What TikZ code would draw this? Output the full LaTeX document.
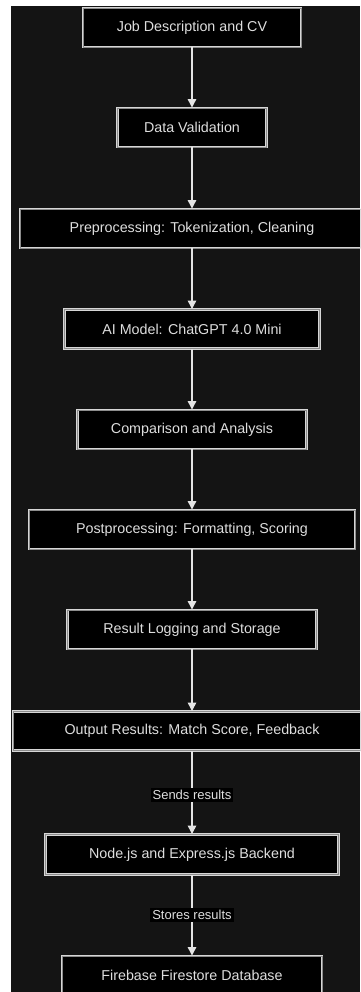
\documentclass[tikz,border=0pt]{standalone}
\usepackage{fontspec}
\setmainfont{Liberation Sans}
\usetikzlibrary{arrows.meta}
\definecolor{bgdark}{RGB}{20,20,20}
\definecolor{bordlight}{RGB}{214,214,214}
\definecolor{bordmid}{RGB}{140,140,140}
\definecolor{txtcol}{RGB}{222,222,222}
\definecolor{arrcol}{RGB}{228,228,228}
\begin{document}
\begin{tikzpicture}[x=1pt,y=-1pt,
  procbox/.style={draw=bordlight, line width=0.9pt, double=bordmid, double distance=0.6pt,
    fill=black, text=txtcol, inner sep=0pt, minimum height=39pt,
    font=\fontsize{14.3}{16}\selectfont},
  flow/.style={draw=arrcol, line width=1.2pt, -{Triangle[width=8.5pt,length=8.5pt]}},
  edgelabel/.style={fill=black, text=txtcol, inner sep=2pt, font=\fontsize{13}{15}\selectfont}]
\useasboundingbox (0,0) rectangle (360,992);
\fill[white] (0,0) rectangle (360,992);
\fill[bgdark] (11,6) rectangle (360,992);
\begin{scope}
\clip (11,6) rectangle (360,992);
\node[procbox, minimum width=218pt] (job) at (192,27.5) {Job Description and CV};
\node[procbox, minimum width=149pt] (val) at (192,127.5) {Data Validation};
\node[procbox, minimum width=344pt] (pre) at (192,228.5) {Preprocessing: Tokenization, Cleaning};
\node[procbox, minimum width=255pt] (ai) at (192,329) {AI Model: ChatGPT 4.0 Mini};
\node[procbox, minimum width=229pt] (cmp) at (192,429.5) {Comparison and Analysis};
\node[procbox, minimum width=326pt] (post) at (192,529.5) {Postprocessing: Formatting, Scoring};
\node[procbox, minimum width=249pt] (log) at (192,629.5) {Result Logging and Storage};
\node[procbox, minimum width=358pt] (out) at (192,731) {Output Results: Match Score, Feedback};
\node[procbox, minimum width=293pt, minimum height=40pt] (back) at (192,854.5) {Node.js and Express.js Backend};
\node[procbox, minimum width=260pt] (db) at (192,975.5) {Firebase Firestore Database};
\draw[flow] (job) -- (val);
\draw[flow] (val) -- (pre);
\draw[flow] (pre) -- (ai);
\draw[flow] (ai) -- (cmp);
\draw[flow] (cmp) -- (post);
\draw[flow] (post) -- (log);
\draw[flow] (log) -- (out);
\draw[flow] (out) -- node[edgelabel, pos=0.53] {Sends results} (back);
\draw[flow] (back) -- node[edgelabel] {Stores results} (db);
\end{scope}
\end{tikzpicture}
\end{document}
